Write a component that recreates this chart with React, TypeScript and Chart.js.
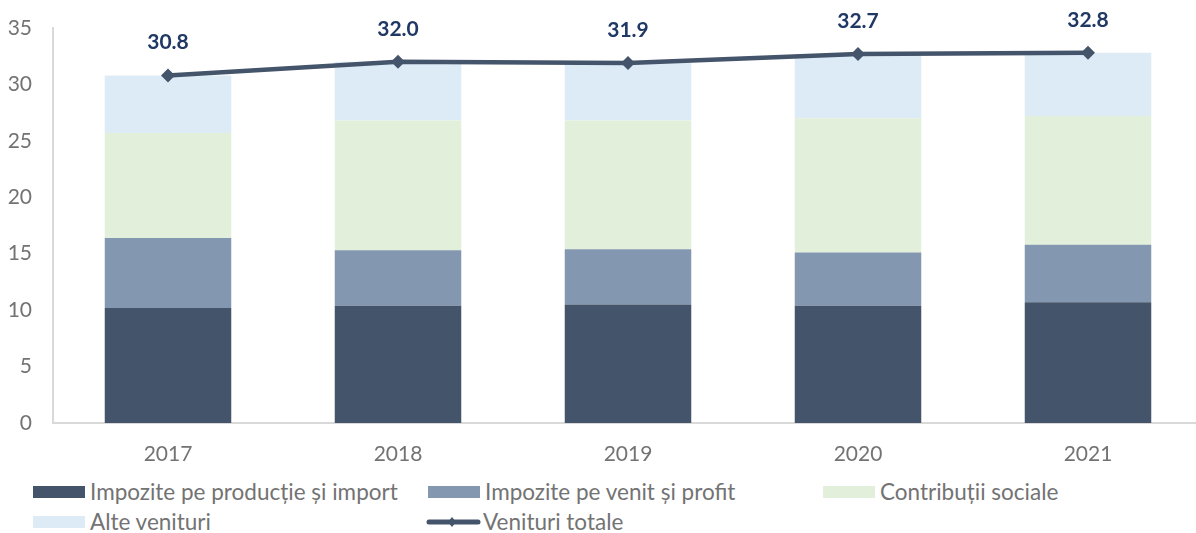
import React, { useEffect, useRef } from "react";
import { Chart, registerables } from "chart.js";

Chart.register(...registerables);

const categories = ["2017", "2018", "2019", "2020", "2021"];
const productionImportTaxes = [10.2, 10.4, 10.5, 10.4, 10.7];
const incomeProfitTaxes = [6.2, 4.9, 4.9, 4.7, 5.1];
const socialContributions = [9.3, 11.5, 11.4, 11.9, 11.4];
const otherRevenues = [5.1, 5.2, 5.1, 5.7, 5.6];
const totalRevenues = [30.8, 32.0, 31.9, 32.7, 32.8];
const yTicks = [0, 5, 10, 15, 20, 25, 30, 35];

const seriesNames = [
  "Impozite pe producție și import",
  "Impozite pe venit și profit",
  "Contribuții sociale",
  "Alte venituri",
  "Venituri totale",
];
const seriesColors = ["#44546a", "#8497b0", "#e2efda", "#ddebf7", "#44546a"];

const FONT = 'Lato, "Open Sans", sans-serif';
const TEXT_GRAY = "#737373";

const totalLabelPlugin = {
  id: "totalLabels",
  afterDatasetsDraw(chart: any) {
    const meta = chart.getDatasetMeta(4);
    const ctx = chart.ctx;
    ctx.save();
    ctx.font = `bold 21px ${FONT}`;
    ctx.fillStyle = "#1f3864";
    ctx.textAlign = "center";
    ctx.textBaseline = "middle";
    meta.data.forEach((pt: any, i: number) => {
      ctx.fillText(totalRevenues[i].toFixed(1), pt.x, pt.y - 33);
    });
    ctx.restore();
  },
};

function LegendItem({ idx, left, top }: { idx: number; left: number; top: number }) {
  const isLine = idx === 4;
  return (
    <div
      style={{
        position: "absolute",
        left,
        top,
        height: 30,
        display: "flex",
        alignItems: "center",
        whiteSpace: "nowrap",
      }}
    >
      {isLine ? (
        <svg width={57} height={30} style={{ display: "block" }}>
          <line x1={3} y1={15} x2={52} y2={15} stroke={seriesColors[4]} strokeWidth={5} strokeLinecap="round" />
          <path d="M26 10 L30 15 L26 20 L22 15 Z" fill={seriesColors[4]} />
        </svg>
      ) : (
        <div style={{ width: 52, height: 12, background: seriesColors[idx], marginRight: 5 }} />
      )}
      <span style={{ font: `22.5px ${FONT}`, color: TEXT_GRAY, lineHeight: "30px" }}>{seriesNames[idx]}</span>
    </div>
  );
}

export default function App() {
  const canvasRef = useRef<HTMLCanvasElement | null>(null);

  useEffect(() => {
    if (!canvasRef.current) return;
    const barDs = (i: number, data: number[]) => ({
      type: "bar" as const,
      label: seriesNames[i],
      data,
      backgroundColor: seriesColors[i],
      borderWidth: 0,
      stack: "bars",
      order: 1,
      categoryPercentage: 1,
      barPercentage: 0.55,
    });
    const chart = new Chart(canvasRef.current, {
      type: "bar",
      data: {
        labels: categories,
        datasets: [
          barDs(0, productionImportTaxes),
          barDs(1, incomeProfitTaxes),
          barDs(2, socialContributions),
          barDs(3, otherRevenues),
          {
            type: "line" as const,
            label: seriesNames[4],
            data: totalRevenues,
            borderColor: seriesColors[4],
            backgroundColor: seriesColors[4],
            borderWidth: 4.5,
            pointStyle: "rectRot",
            pointRadius: 7,
            pointHoverRadius: 7,
            pointBorderWidth: 0,
            stack: "line",
            order: 0,
            tension: 0,
          } as any,
        ],
      },
      options: {
        animation: false,
        responsive: false,
        devicePixelRatio: 1,
        layout: { padding: { top: 28, right: 2, left: 0, bottom: 0 } },
        plugins: { legend: { display: false }, tooltip: { enabled: false } },
        scales: {
          x: {
            stacked: true,
            grid: { display: false, drawTicks: false },
            border: { display: true, color: "#d9d9d9", width: 2 },
            ticks: { font: { family: FONT, size: 21 }, color: TEXT_GRAY, padding: 19 },
            afterFit: (s: any) => {
              s.height = 50;
              s.paddingLeft = 0;
              s.paddingRight = 0;
            },
          },
          y: {
            stacked: true,
            min: 0,
            max: 35,
            grid: { display: false, drawTicks: false },
            border: { display: true, color: "#d9d9d9", width: 2 },
            ticks: { font: { family: FONT, size: 21 }, color: TEXT_GRAY, padding: 21, stepSize: 5 },
            afterBuildTicks: (s: any) => {
              s.ticks = yTicks.map((v) => ({ value: v }));
            },
            afterFit: (s: any) => {
              s.width = 53;
              s.paddingTop = 0;
              s.paddingBottom = 0;
            },
          },
        },
      },
      plugins: [totalLabelPlugin],
    } as any);
    return () => chart.destroy();
  }, []);

  return (
    <div
      style={{
        position: "absolute",
        left: 0,
        top: 0,
        width: 1196,
        height: 533,
        overflow: "hidden",
        background: "#fff",
      }}
    >
      <canvas ref={canvasRef} width={1210} height={473} style={{ display: "block", width: 1210, height: 473 }} />
      <LegendItem idx={0} left={33} top={477} />
      <LegendItem idx={1} left={428} top={477} />
      <LegendItem idx={2} left={823} top={477} />
      <LegendItem idx={3} left={33} top={507} />
      <LegendItem idx={4} left={426} top={507} />
    </div>
  );
}
